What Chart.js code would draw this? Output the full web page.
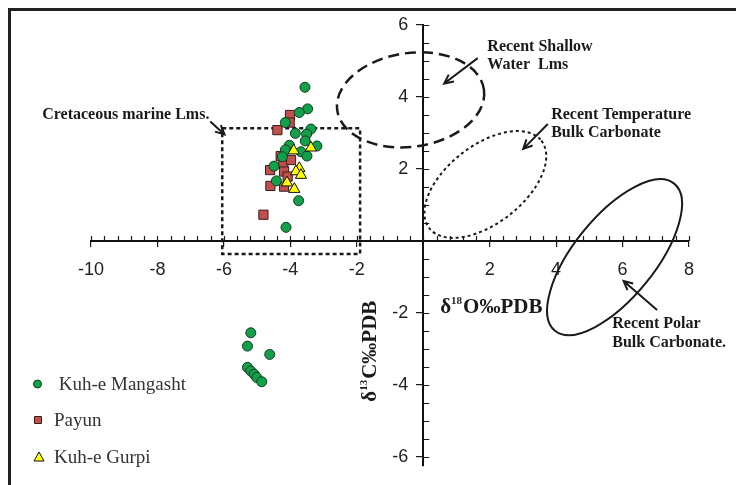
<!DOCTYPE html>
<html>
<head>
<meta charset="utf-8">
<script src="https://cdn.jsdelivr.net/npm/chart.js@4.4.1/dist/chart.umd.min.js"></script>
<style>
  html, body { margin: 0; padding: 0; background: #fff; }
  #wrap { width: 736px; height: 485px; }
</style>
</head>
<body>
<div id="wrap"><canvas id="isoChart" width="736" height="485"></canvas></div>
<script>
// d18O (x) and d13C (y) per section
const mangashtO = [-3.56, -3.48, -3.73, -4.15, -3.38, -3.85, -3.51, -3.55, -3.20, -4.03, -4.15, -3.68, -3.50, -4.24, -4.49, -4.42, -3.75, -4.13,
                   -5.19, -5.29, -4.62, -5.29, -5.19, -5.09, -5.01, -4.86];
const mangashtC = [4.27, 3.67, 3.57, 3.29, 3.11, 2.99, 2.97, 2.78, 2.64, 2.66, 2.53, 2.48, 2.36, 2.34, 2.08, 1.67, 1.12, 0.38,
                   -2.55, -2.92, -3.15, -3.51, -3.61, -3.70, -3.79, -3.91];

const payunO = [-4.01, -4.02, -4.39, -4.29, -4.21, -3.98, -4.61, -4.19, -4.08, -4.60, -4.19, -4.81];
const payunC = [3.50, 3.29, 3.08, 2.36, 2.16, 2.25, 1.97, 1.93, 1.79, 1.53, 1.51, 0.73];

const gurpiO = [-3.90, -3.38, -3.73, -3.83, -3.68, -4.10, -3.88];
const gurpiC = [2.51, 2.59, 2.02, 1.93, 1.83, 1.62, 1.44];

const xTickValues = [-10, -8, -6, -4, -2, 2, 4, 6, 8];
const yTickValues = [-6, -4, -2, 2, 4, 6];

const seriesNames = [' Kuh-e Mangasht', 'Payun', 'Kuh-e Gurpi'];

// reference fields drawn with the data (data units)
const fields = [
    { cx: -0.38, cy: 3.92, a: 2.23, b: 1.41, angle: -8, dash: [11, 6], width: 2.5 },
    { cx: 1.87, cy: 1.57, a: 2.14, b: 1.17, angle: -38, dash: [3, 3], width: 2 },
    { cx: 5.76, cy: -0.45, a: 2.85, b: 1.22, angle: -51, dash: [], width: 2 }
];
const cretaceousBox = { x1: -6.05, x2: -1.9, y1: -0.36, y2: 3.13 };

const notes = [
    { lines: ['Cretaceous marine Lms.'], x: -11.47, y: 3.39, from: [-6.41, 3.32], to: [-5.98, 2.96] },
    { lines: ['Recent Shallow', 'Water  Lms'], x: 1.93, y: 5.29, from: [1.64, 5.08], to: [0.63, 4.375] },
    { lines: ['Recent Temperature', 'Bulk Carbonate'], x: 3.85, y: 3.40, from: [3.75, 3.25], to: [3.01, 2.56] },
    { lines: ['Recent Polar', 'Bulk Carbonate.'], x: 5.69, y: -2.42, from: [7.04, -1.92], to: [6.03, -1.11] }
];

const SERIF = '"Liberation Serif", "Times New Roman", serif';
const SANS = '"Liberation Sans", Arial, sans-serif';
const INK = '#1a1a1a';

function toPoints(xs, ys) {
    return xs.map((v, i) => ({ x: v, y: ys[i] }));
}

function drawArrow(ctx, x1, y1, x2, y2) {
    const ang = Math.atan2(y2 - y1, x2 - x1);
    const head = 10;
    ctx.beginPath();
    ctx.moveTo(x1, y1);
    ctx.lineTo(x2, y2);
    ctx.moveTo(x2 - head * Math.cos(ang - 0.45), y2 - head * Math.sin(ang - 0.45));
    ctx.lineTo(x2, y2);
    ctx.lineTo(x2 - head * Math.cos(ang + 0.45), y2 - head * Math.sin(ang + 0.45));
    ctx.stroke();
}

// axis title with a raised isotope number
function drawIsoTitle(ctx, mass, element, cx, cy, rotate) {
    const big = 'bold 21px ' + SERIF;
    const small = 'bold 11px ' + SERIF;
    ctx.save();
    ctx.translate(cx, cy);
    if (rotate) ctx.rotate(-Math.PI / 2);
    ctx.font = big;
    const w1 = ctx.measureText('\u03b4').width;
    const w3 = ctx.measureText(element + '\u2030PDB').width;
    ctx.font = small;
    const w2 = ctx.measureText(mass).width + 1;
    let x = -(w1 + w2 + w3) / 2;
    ctx.fillStyle = INK;
    ctx.textBaseline = 'alphabetic';
    ctx.textAlign = 'left';
    ctx.font = big;
    ctx.fillText('\u03b4', x, 7);
    x += w1;
    ctx.font = small;
    ctx.fillText(mass, x, -2);
    x += w2;
    ctx.font = big;
    ctx.fillText(element + '\u2030PDB', x, 7);
    ctx.restore();
}

const referenceArt = {
    id: 'referenceArt',
    beforeDatasetsDraw(chart) {
        const { ctx, scales: { x, y } } = chart;
        const ux = x.getPixelForValue(1) - x.getPixelForValue(0);
        const x0 = x.getPixelForValue(0);
        const y0 = y.getPixelForValue(0);
        ctx.save();
        ctx.strokeStyle = INK;

        // minor ticks and inner half of the major ticks
        ctx.lineWidth = 1.2;
        ctx.beginPath();
        for (let i = 0; i <= 45; i++) {
            const v = -10 + i * 0.4;
            const px = Math.round(x.getPixelForValue(v)) + 0.5;
            ctx.moveTo(px, y0);
            ctx.lineTo(px, y0 - 5);
        }
        for (let i = 0; i <= 24; i++) {
            const v = -6 + i * 0.5;
            const py = Math.round(y.getPixelForValue(v)) + 0.5;
            ctx.moveTo(x0, py);
            ctx.lineTo(x0 + 6, py);
        }
        ctx.stroke();

        // y tick labels, to the left of the crossing axis
        ctx.fillStyle = '#222';
        ctx.font = '18px ' + SANS;
        ctx.textAlign = 'right';
        ctx.textBaseline = 'middle';
        y.ticks.forEach(t => ctx.fillText(String(t.value), x0 - 15, y.getPixelForValue(t.value)));

        // ellipses
        fields.forEach(f => {
            ctx.lineWidth = f.width;
            ctx.setLineDash(f.dash);
            ctx.beginPath();
            ctx.ellipse(x.getPixelForValue(f.cx), y.getPixelForValue(f.cy), f.a * ux, f.b * ux,
                f.angle * Math.PI / 180, 0, Math.PI * 2);
            ctx.stroke();
        });

        // dotted box around the Cretaceous field
        ctx.lineWidth = 2.5;
        ctx.setLineDash([4, 3]);
        const bx1 = x.getPixelForValue(cretaceousBox.x1), bx2 = x.getPixelForValue(cretaceousBox.x2);
        const by1 = y.getPixelForValue(cretaceousBox.y1), by2 = y.getPixelForValue(cretaceousBox.y2);
        ctx.strokeRect(bx1, by2, bx2 - bx1, by1 - by2);
        ctx.restore();
    },
    afterDraw(chart) {
        const { ctx, scales: { x, y } } = chart;
        ctx.save();

        // labels and arrows
        ctx.fillStyle = INK;
        ctx.strokeStyle = INK;
        ctx.lineWidth = 2;
        ctx.font = 'bold 16px ' + SERIF;
        ctx.textAlign = 'left';
        ctx.textBaseline = 'alphabetic';
        notes.forEach(n => {
            const tx = x.getPixelForValue(n.x), ty = y.getPixelForValue(n.y);
            n.lines.forEach((t, i) => ctx.fillText(t, tx, ty + i * 18.5));
            drawArrow(ctx, x.getPixelForValue(n.from[0]), y.getPixelForValue(n.from[1]),
                x.getPixelForValue(n.to[0]), y.getPixelForValue(n.to[1]));
        });

        // axis titles
        drawIsoTitle(ctx, '18', 'O', x.getPixelForValue(2.05), y.getPixelForValue(-1.81), false);
        drawIsoTitle(ctx, '13', 'C', x.getPixelForValue(-1.63), y.getPixelForValue(-3.06), true);

        // legend, bottom left
        const rows = [384, 420, 457];
        chart.data.datasets.forEach((ds, i) => {
            const cy = rows[i];
            ctx.fillStyle = ds.backgroundColor;
            ctx.strokeStyle = ds.borderColor;
            ctx.lineWidth = 1;
            ctx.beginPath();
            if (ds.pointStyle === 'circle') {
                ctx.arc(37.5, cy, 4, 0, Math.PI * 2);
            } else if (ds.pointStyle === 'rect') {
                ctx.rect(34.5, cy - 3.5, 7, 7);
            } else {
                ctx.moveTo(39, cy - 5);
                ctx.lineTo(44, cy + 4);
                ctx.lineTo(34, cy + 4);
                ctx.closePath();
            }
            ctx.fill();
            ctx.stroke();
            ctx.fillStyle = '#333';
            ctx.font = '19px ' + SERIF;
            ctx.textBaseline = 'middle';
            ctx.fillText(ds.label, 54, cy + 1);
        });

        // figure frame
        ctx.strokeStyle = '#222';
        ctx.lineWidth = 3;
        ctx.strokeRect(9.5, 9.5, 760, 520);
        ctx.restore();
    }
};

new Chart(document.getElementById('isoChart'), {
    type: 'scatter',
    data: {
        datasets: [
            {
                label: seriesNames[0],
                data: toPoints(mangashtO, mangashtC),
                pointStyle: 'circle',
                pointRadius: 5,
                backgroundColor: '#12a04a',
                borderColor: '#153a20',
                borderWidth: 1,
                order: 1
            },
            {
                label: seriesNames[1],
                data: toPoints(payunO, payunC),
                pointStyle: 'rect',
                pointRadius: 6.5,
                backgroundColor: '#c0504d',
                borderColor: '#3a1c1a',
                borderWidth: 1,
                order: 2
            },
            {
                label: seriesNames[2],
                data: toPoints(gurpiO, gurpiC),
                pointStyle: 'triangle',
                pointRadius: 6.5,
                backgroundColor: '#ffff00',
                borderColor: '#111',
                borderWidth: 1,
                order: 0
            }
        ]
    },
    options: {
        responsive: false,
        animation: false,
        layout: { padding: { left: 91, right: 47, top: 25, bottom: 19 } },
        plugins: {
            legend: { display: false },
            tooltip: { enabled: false }
        },
        scales: {
            x: {
                type: 'linear',
                min: -10,
                max: 8,
                position: { y: 0 },
                afterBuildTicks: s => { s.ticks = xTickValues.map(v => ({ value: v })); },
                grid: { drawOnChartArea: false, tickLength: 5, color: INK, lineWidth: 1.2 },
                border: { display: true, color: '#111', width: 2 },
                ticks: { padding: 13, color: '#222', maxRotation: 0, autoSkip: false, font: { family: SANS, size: 18 } }
            },
            y: {
                type: 'linear',
                min: -6.25,
                max: 6,
                position: { x: 0 },
                afterBuildTicks: s => { s.ticks = yTickValues.map(v => ({ value: v })); },
                grid: { drawOnChartArea: false, tickLength: 6, color: INK, lineWidth: 1.2 },
                border: { display: true, color: '#111', width: 2 },
                ticks: { display: false }
            }
        }
    },
    plugins: [referenceArt]
});
</script>
</body>
</html>
